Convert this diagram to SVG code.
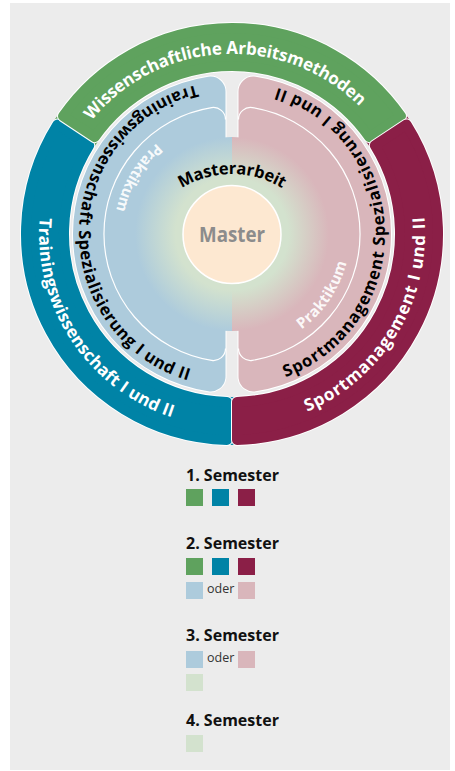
<svg xmlns="http://www.w3.org/2000/svg" xmlns:xlink="http://www.w3.org/1999/xlink" width="455" height="771" viewBox="0 0 455 771">
<defs>
<style>
.txt{font-family:"Open Sans","Noto Sans","DejaVu Sans",sans-serif;font-weight:700}
.wt{font-size:17px;fill:#fff}
.bt{font-size:16.5px;fill:#000}
.pk{font-size:15px;fill:#fff;fill-opacity:0.92}
.lg{font-size:16px;fill:#111}
.od{font-family:"Open Sans","Noto Sans",sans-serif;font-weight:400;font-size:12.5px;fill:#333}
.sedge{fill:#fff;stroke:#fff;stroke-width:12;stroke-linejoin:round}
.seg{stroke-width:10;stroke-linejoin:round}
.bedge{fill:#fff;stroke:#fff;stroke-width:32;stroke-linejoin:round}
.blk{stroke-width:30;stroke-linejoin:round}
.inner{fill:none;stroke:#fff;stroke-width:1.2}
.green{fill:#5fa25e;stroke:#5fa25e}
.teal{fill:#0083a6;stroke:#0083a6}
.maroon{fill:#8b1f47;stroke:#8b1f47}
.lblue{fill:#adcbdc;stroke:#adcbdc}
.pink{fill:#d9b6bb;stroke:#d9b6bb}
</style>
<radialGradient id="gL" gradientUnits="userSpaceOnUse" cx="232" cy="234" r="97">
<stop offset="0" stop-color="#d3e2ce"/>
<stop offset="0.58" stop-color="#d3e2ce"/>
<stop offset="1" stop-color="#adcbdc"/>
</radialGradient>
<radialGradient id="gR" gradientUnits="userSpaceOnUse" cx="232" cy="234" r="97">
<stop offset="0" stop-color="#d3e2ce"/>
<stop offset="0.58" stop-color="#d3e2ce"/>
<stop offset="1" stop-color="#d9b6bb"/>
</radialGradient>
<path id="pWiss" d="M 51.25,243.47 A 181 181 0 0 1 412.75,224.53"/>
<path id="pTrain" d="M 111.86,82.96 A 193 193 0 0 0 324.09,403.61"/>
<path id="pSport" d="M 147.39,407.47 A 193 193 0 0 0 345.44,77.86"/>
<path id="pTSpez" d="M 231.20,81.00 A 153 153 0 0 0 222.13,386.68"/>
<path id="pSSpez" d="M 241.87,386.68 A 153 153 0 0 0 232.80,81.00"/>
<path id="pPrakL" d="M 234.06,116.02 A 118 118 0 0 0 128.79,291.21"/>
<path id="pPrakR" d="M 223.77,351.71 A 118 118 0 0 0 338.06,182.27"/>
<path id="pMA" d="M 137,269 A 95 95 0 0 1 327,269"/>
</defs>

<rect x="10" y="3" width="440" height="767" fill="#ececec"/>

<g id="ring-joins">
<path fill="#0083a6" d="M 254.06,443.84 A 211 211 0 0 1 209.94,443.84 L 214.96,396.11 A 163 163 0 0 0 249.04,396.11 Z"/>
<path fill="#5fa25e" d="M 44.00,138.21 A 211 211 0 0 1 68.02,101.21 L 105.32,131.42 A 163 163 0 0 0 86.77,160.00 Z"/>
<path fill="#8b1f47" d="M 395.98,101.21 A 211 211 0 0 1 420.00,138.21 L 377.23,160.00 A 163 163 0 0 0 358.68,131.42 Z"/>
</g>

<g id="trainingswissenschaft">
<path class="sedge" d="M 227,439.94 A 206 206 0 0 1 57.51,124.50 L 89.21,145.49 A 168 168 0 0 0 227,401.93 Z"/>
<path class="seg teal" d="M 227,439.94 A 206 206 0 0 1 57.51,124.50 L 89.21,145.49 A 168 168 0 0 0 227,401.93 Z"/>
<text class="txt wt"><textPath xlink:href="#pTrain" href="#pTrain" startOffset="50%" text-anchor="middle" textLength="258">Trainingswissenschaft I und II</textPath></text>
</g>

<g id="wissenschaftliche-arbeitsmethoden">
<path class="sedge" d="M 63.03,116.16 A 206 206 0 0 1 400.97,116.16 L 369.27,137.14 A 168 168 0 0 0 94.73,137.14 Z"/>
<path class="seg green" d="M 63.03,116.16 A 206 206 0 0 1 400.97,116.16 L 369.27,137.14 A 168 168 0 0 0 94.73,137.14 Z"/>
<text class="txt wt"><textPath xlink:href="#pWiss" href="#pWiss" startOffset="50%" text-anchor="middle" textLength="302">Wissenschaftliche Arbeitsmethoden</textPath></text>
</g>

<g id="sportmanagement">
<path class="sedge" d="M 406.49,124.50 A 206 206 0 0 1 237,439.94 L 237,401.93 A 168 168 0 0 0 374.79,145.49 Z"/>
<path class="seg maroon" d="M 406.49,124.50 A 206 206 0 0 1 237,439.94 L 237,401.93 A 168 168 0 0 0 374.79,145.49 Z"/>
<text class="txt wt"><textPath xlink:href="#pSport" href="#pSport" startOffset="50%" text-anchor="middle" textLength="243">Sportmanagement I und II</textPath></text>
</g>

<g id="trainingswissenschaft-spezialisierung">
<path class="bedge" d="M 210.5,91.61 A 144 144 0 0 0 210.5,376.39 Z"/>
<path class="blk lblue" d="M 210.5,91.61 A 144 144 0 0 0 210.5,376.39 Z"/>
<path class="inner" d="M 225.5,119.48 A 12 12 0 0 0 211.59,107.63 A 128 128 0 0 0 211.59,360.37 A 12 12 0 0 0 225.5,348.52"/>
<text class="txt bt"><textPath xlink:href="#pTSpez" href="#pTSpez" startOffset="50%" text-anchor="middle" textLength="400">Trainingswissenschaft Spezialisierung I und II</textPath></text>
</g>

<g id="sportmanagement-spezialisierung">
<path class="bedge" d="M 253.5,91.61 A 144 144 0 0 1 253.5,376.39 Z"/>
<path class="blk pink" d="M 253.5,91.61 A 144 144 0 0 1 253.5,376.39 Z"/>
<path class="inner" d="M 238.5,119.48 A 12 12 0 0 1 252.41,107.63 A 128 128 0 0 1 252.41,360.37 A 12 12 0 0 1 238.5,348.52"/>
<text class="txt bt"><textPath xlink:href="#pSSpez" href="#pSSpez" startOffset="50%" text-anchor="middle" textLength="380">Sportmanagement Spezialisierung I und II</textPath></text>
</g>

<g id="masterarbeit">
<path fill="url(#gL)" d="M 232,137 A 97 97 0 0 0 232,331 Z"/>
<path fill="url(#gR)" d="M 232,137 A 97 97 0 0 1 232,331 Z"/>
<text class="txt bt"><textPath xlink:href="#pMA" href="#pMA" startOffset="50%" text-anchor="middle" textLength="106">Masterarbeit</textPath></text>
</g>

<g id="praktikum-training">
<text class="txt pk"><textPath xlink:href="#pPrakL" href="#pPrakL" startOffset="50%" text-anchor="middle" textLength="80">Praktikum</textPath></text>
</g>

<g id="praktikum-sport">
<text class="txt pk"><textPath xlink:href="#pPrakR" href="#pPrakR" startOffset="50%" text-anchor="middle" textLength="82">Praktikum</textPath></text>
</g>

<g id="master">
<circle cx="232" cy="234.5" r="49" fill="#fde8d1" stroke="#fff" stroke-width="1.5"/>
<text class="txt" x="232" y="241.5" text-anchor="middle" font-size="22" fill="#8c8c8c" textLength="66" lengthAdjust="spacingAndGlyphs">Master</text>
</g>

<g id="connectors"></g>

<g id="legend">
<text class="txt lg" x="186" y="481">1. Semester</text>
<rect x="186" y="489" width="17" height="17" fill="#5fa25e"/>
<rect x="212" y="489" width="17" height="17" fill="#0083a6"/>
<rect x="238" y="489" width="17" height="17" fill="#8b1f47"/>

<text class="txt lg" x="186" y="549">2. Semester</text>
<rect x="186" y="558" width="17" height="17" fill="#5fa25e"/>
<rect x="212" y="558" width="17" height="17" fill="#0083a6"/>
<rect x="238" y="558" width="17" height="17" fill="#8b1f47"/>
<rect x="186" y="582" width="17" height="17" fill="#adcbdc"/>
<text class="od" x="207" y="593">oder</text>
<rect x="238" y="582" width="17" height="17" fill="#d9b6bb"/>

<text class="txt lg" x="186" y="641">3. Semester</text>
<rect x="186" y="651" width="17" height="17" fill="#adcbdc"/>
<text class="od" x="207" y="662">oder</text>
<rect x="238" y="651" width="17" height="17" fill="#d9b6bb"/>
<rect x="186" y="674" width="17" height="17" fill="#d3e2ce"/>

<text class="txt lg" x="186" y="726">4. Semester</text>
<rect x="186" y="735" width="17" height="17" fill="#d3e2ce"/>
</g>
</svg>
